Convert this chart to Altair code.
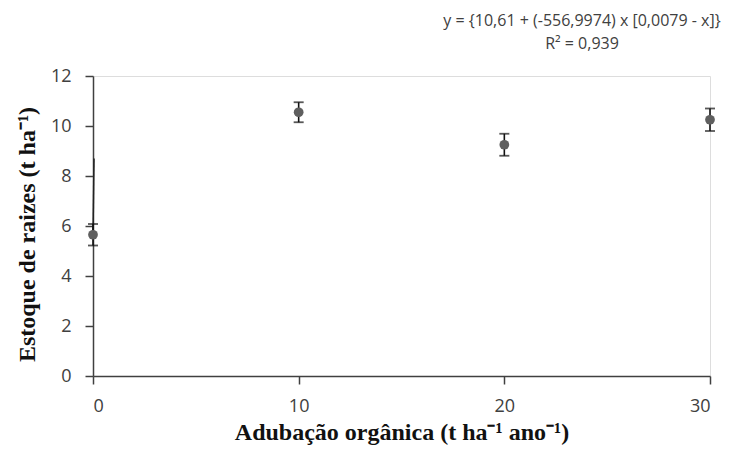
import altair as alt
import pandas as pd

dose = [0, 10, 20, 30]
estoque = [5.65, 10.55, 9.25, 10.25]
erro = [0.43, 0.40, 0.44, 0.45]

fit_x = [0.0, 0.05]
fit_y = [5.7, 8.7]

eq_lines = ["y = {10,61 + (-556,9974) x [0,0079 - x]}", "R\u00b2 = 0,939"]

df = pd.DataFrame({
    "dose": dose,
    "estoque": estoque,
    "lo": [v - e for v, e in zip(estoque, erro)],
    "hi": [v + e for v, e in zip(estoque, erro)],
})
fit = pd.DataFrame({"dose": fit_x, "estoque": fit_y})

xscale = alt.Scale(domain=[0, 30], nice=False)
yscale = alt.Scale(domain=[0, 12], nice=False)

xaxis = alt.Axis(values=[0, 10, 20, 30], grid=False, title="Adubação orgânica (t ha\u207b\u00b9 ano\u207b\u00b9)",
                 labelFont="Open Sans", labelFontSize=18, labelColor="#404040",
                 tickSize=8, labelPadding=13, tickColor="#404040", domainColor="#404040",
                 domainWidth=1.5, tickWidth=1.5,
                 titleFont="Liberation Serif", titleFontSize=24, titleFontWeight="bold",
                 titleColor="#111111", titlePadding=5)
yaxis = alt.Axis(values=[0, 2, 4, 6, 8, 10, 12], grid=False, title="Estoque de raizes (t ha\u207b\u00b9)",
                 labelFont="Open Sans", labelFontSize=18, labelColor="#404040",
                 tickSize=8, labelPadding=14, tickColor="#404040", domainColor="#404040",
                 domainWidth=1.5, tickWidth=1.5,
                 titleFont="Liberation Serif", titleFontSize=24, titleFontWeight="bold",
                 titleColor="#111111", titlePadding=11, titleY=158)

base = alt.Chart(df)

rules = base.mark_rule(color="#111111", strokeWidth=1.6).encode(
    x=alt.X("dose:Q", scale=xscale, axis=xaxis),
    y=alt.Y("lo:Q", scale=yscale, axis=yaxis),
    y2="hi:Q",
)
caps_lo = base.mark_tick(orient="horizontal", size=10, thickness=1.8, color="#111111").encode(
    x=alt.X("dose:Q", scale=xscale), y=alt.Y("lo:Q", scale=yscale))
caps_hi = base.mark_tick(orient="horizontal", size=10, thickness=1.8, color="#111111").encode(
    x=alt.X("dose:Q", scale=xscale), y=alt.Y("hi:Q", scale=yscale))
points = base.mark_circle(size=95, color="#5f5f5f", opacity=1).encode(
    x=alt.X("dose:Q", scale=xscale), y=alt.Y("estoque:Q", scale=yscale))
line = alt.Chart(fit).mark_line(color="#222222", strokeWidth=1.5).encode(
    x=alt.X("dose:Q", scale=xscale), y=alt.Y("estoque:Q", scale=yscale))

chart = alt.layer(line, rules, caps_lo, caps_hi, points).properties(
    width=617, height=300,
    autosize=alt.AutoSizeParams(type="none"),
    padding={"left": 85, "top": 68, "right": 33, "bottom": 69},
    title=alt.TitleParams(text=eq_lines, anchor="end", align="center", frame="group",
                          dx=-128, font="Open Sans", fontSize=16, fontWeight="normal",
                          color="#404040", lineHeight=23, offset=15),
).configure_view(stroke=None).configure(background="white")

chart.save("out.html", embed_options={"renderer": "svg", "actions": False})
